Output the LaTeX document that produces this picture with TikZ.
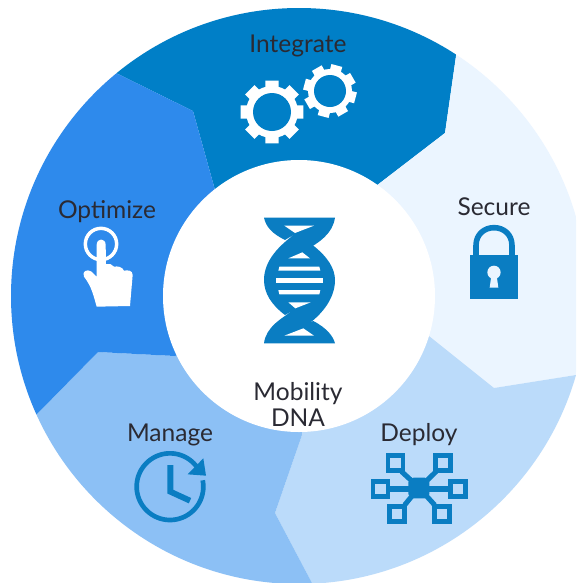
\documentclass[tikz,border=0pt]{standalone}
\usepackage{fontspec}
\setmainfont{Lato}
\definecolor{cInt}{HTML}{007FC7}
\definecolor{cOpt}{HTML}{2E8AEC}
\definecolor{cMan}{HTML}{8CC0F5}
\definecolor{cDep}{HTML}{BBDBFA}
\definecolor{cSec}{HTML}{EBF5FF}
\definecolor{cIcon}{HTML}{0A7DC2}
\definecolor{cTxt}{HTML}{2A2A33}
\tikzset{
  lbl/.style={text=cTxt,font=\fontsize{18.4}{19.5}\selectfont,align=center,inner sep=0pt},
  z3/.style={x=0.25pt,y=-0.25pt},
}
\newcommand{\mygear}[6]{% cx cy body tip hole rot
  \begin{scope}[shift={(#1,#2)}]
    \fill[white] (0,0) circle (#3);
    \foreach \a in {0,45,...,315}{
      \fill[white] ({(#3-3)*cos(\a+#6-17)},{(#3-3)*sin(\a+#6-17)}) --
        ({#4*cos(\a+#6-12)},{#4*sin(\a+#6-12)}) --
        ({#4*cos(\a+#6+12)},{#4*sin(\a+#6+12)}) --
        ({(#3-3)*cos(\a+#6+17)},{(#3-3)*sin(\a+#6+17)}) -- cycle;
    }
    \fill[cInt] (0,0) circle (#5);
  \end{scope}
}
\begin{document}
\begin{tikzpicture}[x=0.75pt,y=-0.75pt]
\useasboundingbox (0,0) rectangle (576,583);
\fill[white] (0,0) rectangle (576,583);
\begin{scope}
\clip (0,0) rectangle (576,583);
\clip (299,296) circle (288);
\fill[cInt] (215,190)--(193,111)--(118,74)--(78,54)--(78,-20)--(462,-20)--(456,56)--(445,133)--(376,186)--(299,296)--cycle;
\fill[cSec] (456,56)--(462,-20)--(640,-20)--(640,365)--(576,375)--(494,388)--(429,336)--(299,296)--(376,186)--(445,133)--cycle;
\fill[cDep] (429,336)--(494,388)--(576,375)--(640,365)--(640,640)--(342,640)--(312,583)--(275,513)--(302,435)--(299,296)--cycle;
\fill[cMan] (302,435)--(275,513)--(312,583)--(342,640)--(-20,640)--(-20,472)--(36,415)--(98,352)--(175,356)--(299,296)--cycle;
\fill[cOpt] (175,356)--(98,352)--(36,415)--(-20,472)--(-20,20)--(78,54)--(118,74)--(193,111)--(215,190)--(299,296)--cycle;
\end{scope}
\fill[white] (299,296) circle (136);
% gears
\mygear{272}{112}{26}{32}{19}{0}
\mygear{330}{91}{22}{27}{16}{15}
% DNA
\begin{scope}[shift={(240,205)},z3]
\fill[cIcon] (72,38)--(285,38)
  .. controls (278,85) and (240,112) .. (192,138)
  -- (220,122)
  .. controls (262,155) and (285,190) .. (285,225)
  .. controls (285,285) and (240,335) .. (190,368)
  -- (220,348)
  .. controls (262,370) and (280,395) .. (285,415)
  -- (72,415)
  .. controls (78,365) and (125,340) .. (166,312)
  -- (135,330)
  .. controls (95,300) and (72,265) .. (72,225)
  .. controls (72,165) and (120,120) .. (166,86)
  -- (135,105)
  .. controls (95,85) and (78,65) .. (72,38) -- cycle;
\fill[white] (133,62)--(222,62)--(165,84)--cycle;
\fill[white] (145,160)--(210,160)--(187,142)--cycle;
\fill[white] (145,292)--(212,292)--(166,310)--cycle;
\fill[white] (133,392)--(222,392)--(190,370)--cycle;
\fill[white] (118,185)--(238,185)--(241,197)--(115,197)--cycle;
\fill[white] (108,220)--(248,220)--(248,233)--(108,233)--cycle;
\fill[white] (115,255)--(241,255)--(238,268)--(118,268)--cycle;
\end{scope}
% hand
\begin{scope}[shift={(60,220)},z3]
\draw[white,line width=2.6pt] (123,72) circle (47);
\fill[white] (110,75) .. controls (110,53) and (137,53) .. (137,75)
  -- (138,132) .. controls (147,130) and (157,132) .. (162,140)
  .. controls (172,138) and (187,140) .. (192,152)
  .. controls (202,150) and (218,150) .. (218,165)
  -- (210,258) -- (110,260)
  .. controls (100,225) and (95,200) .. (72,170)
  .. controls (65,155) and (80,145) .. (95,155)
  -- (110,170) -- cycle;
\end{scope}
% clock
\begin{scope}[shift={(120,440)},z3]
\draw[cIcon,line width=3.5pt] plot[domain=-11:323,samples=80] ({150+100*cos(\x)},{140+100*sin(\x)});
\fill[cIcon] (250,55)--(258,107)--(203,103)--cycle;
\draw[cIcon,line width=4.4pt] (151,75)--(151,155)--(210,182);
\end{scope}
% network
\begin{scope}[shift={(360,445)},z3]
\draw[cIcon,line width=3.4pt] (84,31) rectangle (129,76);
\draw[cIcon,line width=3.4pt] (226,31) rectangle (271,76);
\draw[cIcon,line width=3.4pt] (39,109) rectangle (84,154);
\draw[cIcon,line width=3.4pt] (271,109) rectangle (316,154);
\draw[cIcon,line width=3.4pt] (88,184) rectangle (134,230);
\draw[cIcon,line width=3.4pt] (224,184) rectangle (269,230);
\fill[cIcon] (160,98)--(195,98)--(208,112)--(208,148)--(195,160)--(158,160)--(145,148)--(145,112)--cycle;
\draw[cIcon,line width=4.4pt] (90,132)--(265,132);
\draw[cIcon,line width=3.8pt] (125,80)--(160,112);
\draw[cIcon,line width=3.8pt] (228,80)--(195,112);
\draw[cIcon,line width=3.8pt] (134,180)--(160,148);
\draw[cIcon,line width=3.8pt] (224,180)--(195,148);
\end{scope}
% lock
\begin{scope}[shift={(455,215)},z3]
\draw[cIcon,line width=4.2pt] (63,125)--(63,92) .. controls (63,20) and (171,20) .. (171,92) -- (171,125);
\fill[cIcon] (45,120) rectangle (190,252);
\fill[cSec] (117,172) circle (20);
\fill[cSec] (110,175)--(124,175)--(130,218)--(104,218)--cycle;
\end{scope}
% labels
\node[lbl] (integrate) at (298,46) {Integrate};
\node[lbl] (secure) at (494,207) {Secure};
\node[lbl] (optimize) at (107,212) {Optimize};
\node[lbl] (manage) at (170,435) {Manage};
\node[lbl] (deploy) at (419,435) {Deploy};
\node[lbl] (mobility) at (298,404) {Mobility\\DNA};
\end{tikzpicture}
\end{document}
